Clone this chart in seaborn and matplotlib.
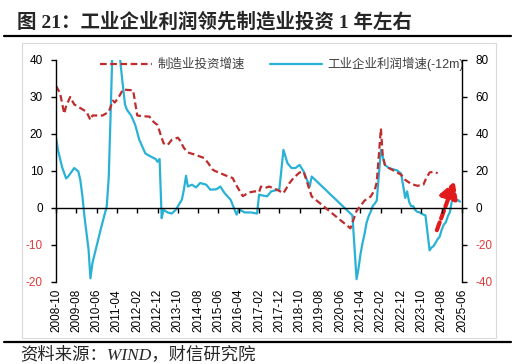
import pandas as pd
import matplotlib
matplotlib.use("Agg")
import matplotlib.pyplot as plt
import matplotlib.dates as mdates
from matplotlib.lines import Line2D
from matplotlib.patches import Rectangle
from matplotlib.transforms import Bbox, TransformedBbox
import seaborn as sns

## 制造业投资增速 (left axis, %)
invest_dates = ["2008-10", "2008-12", "2009-02", "2009-03", "2009-05", "2009-07", "2009-10",
                "2010-01", "2010-03", "2010-04", "2010-09", "2010-12", "2011-02", "2011-03",
                "2011-05", "2011-07", "2011-12", "2012-02", "2012-05", "2012-08", "2012-10",
                "2012-12", "2013-02", "2013-03", "2013-05", "2013-07", "2013-10", "2013-11",
                "2014-01", "2014-03", "2014-06", "2014-08", "2014-11", "2015-01", "2015-03",
                "2015-04", "2015-07", "2015-10", "2016-01", "2016-03", "2016-06", "2016-09",
                "2016-12", "2017-02", "2017-03", "2017-05", "2017-07", "2017-11", "2018-02",
                "2018-05", "2018-07", "2018-10", "2018-12", "2019-04", "2020-11", "2021-02",
                "2021-06", "2021-09", "2021-11", "2021-12", "2022-02", "2022-03", "2022-04",
                "2022-06", "2022-09", "2022-12", "2023-02", "2023-05", "2023-08", "2023-11",
                "2023-12", "2024-02", "2024-04", "2024-06"]
invest_values = [33.0, 31.0, 25.5, 27.5, 30.0, 28.0, 27.0,
                 26.0, 23.8, 25.0, 25.0, 26.0, 29.0, 28.5,
                 30.0, 32.0, 31.8, 25.0, 24.8, 24.7, 23.3,
                 22.4, 19.0, 17.5, 17.0, 18.4, 19.0, 18.3,
                 16.2, 15.0, 14.5, 14.1, 13.5, 12.1, 10.5,
                 10.1, 9.4, 8.7, 8.1, 6.0, 3.2, 4.2,
                 4.5, 4.3, 5.8, 5.4, 5.8, 4.9, 4.0,
                 6.7, 8.1, 9.6, 9.8, 3.1, -5.5, -0.8,
                 2.0, 3.1, 4.9, 7.0, 21.5, 14.0, 11.7,
                 10.8, 9.9, 9.0, 7.6, 6.5, 6.0, 6.3,
                 7.6, 9.6, 9.8, 9.4]

## 工业企业利润增速(-12m) (right axis, %)
profit_dates = ["2008-10", "2008-11", "2009-01", "2009-03", "2009-04", "2009-07", "2009-09",
                "2009-10", "2009-11", "2009-12", "2010-02", "2010-03", "2010-04", "2010-06",
                "2010-08", "2010-11", "2010-12", "2011-01", "2011-02", "2011-03", "2011-04",
                "2011-05", "2011-06", "2011-07", "2011-08", "2011-09", "2011-11", "2012-01",
                "2012-03", "2012-06", "2012-08", "2012-11", "2012-12", "2013-01", "2013-02",
                "2013-03", "2013-05", "2013-07", "2013-09", "2013-12", "2014-01", "2014-02",
                "2014-03", "2014-05", "2014-07", "2014-09", "2014-12", "2015-02", "2015-05",
                "2015-07", "2015-09", "2015-12", "2016-03", "2016-04", "2016-07", "2016-10",
                "2017-01", "2017-02", "2017-04", "2017-06", "2017-08", "2017-12", "2018-02",
                "2018-04", "2018-06", "2018-08", "2018-10", "2018-12", "2019-03", "2019-04",
                "2020-12", "2021-02", "2021-03", "2021-04", "2021-05", "2021-06", "2021-07",
                "2021-08", "2021-09", "2021-10", "2021-11", "2021-12", "2022-02", "2022-03",
                "2022-04", "2022-06", "2022-10", "2022-12", "2023-02", "2023-03", "2023-04",
                "2023-05", "2023-06", "2023-07", "2023-08", "2023-09", "2023-10", "2023-11",
                "2023-12", "2024-02", "2024-03", "2024-04", "2024-05", "2024-06", "2024-07",
                "2024-08", "2024-09", "2024-10", "2024-11", "2024-12", "2025-02", "2025-03",
                "2025-04", "2025-05"]
profit_values = [38.0, 31.0, 22.0, 16.0, 17.0, 21.6, 19.7,
                 15.0, 6.3, -4.5, -22.5, -38.0, -29.6, -20.7,
                 -11.7, 1.0, 17.0, 55.0, 95.0, 115.0, 100.0,
                 88.0, 76.0, 66.0, 56.0, 53.0, 50.0, 45.0,
                 37.0, 29.5, 28.2, 26.5, 25.0, 26.5, -5.5,
                 -1.0, -2.4, -3.0, -1.0, 4.5, 10.0, 17.4,
                 11.6, 12.6, 11.1, 13.5, 12.6, 9.9, 10.1,
                 11.6, 8.1, 4.5, -3.6, -0.7, -2.4, -2.4,
                 -3.0, 7.2, 6.7, 6.3, 9.0, 10.0, 31.4,
                 24.3, 21.6, 21.6, 23.3, 19.7, 11.6, 17.0,
                 -4.0, -38.5, -33.0, -25.0, -19.0, -14.0, -8.0,
                 -4.5, -2.0, 1.0, 2.4, 4.0, 31.4, 27.8,
                 23.3, 21.6, 20.3, 18.6, 5.4, 9.0, 3.2,
                 1.0, 1.0, -1.1, -2.1, -2.3, -3.0, -3.6,
                 -4.0, -22.9, -21.4, -20.6, -18.8, -16.8, -15.5,
                 -11.7, -9.0, -7.8, -4.4, -2.3, 10.2, 4.3,
                 4.3, 3.4]

x_ticks = pd.date_range("2008-10-01", "2025-06-01", freq="10MS")
left_ticks = [40, 30, 20, 10, 0, -10, -20]
right_ticks = [80, 60, 40, 20, 0, -20, -40]

RED = "#BE2D2D"
BLUE = "#2AB2D6"
NEG = "#E03B3B"

sns.set_style("ticks")
plt.rcParams["font.family"] = ["Liberation Sans", "Noto Sans CJK SC"]
plt.rcParams["axes.unicode_minus"] = False

invest = pd.DataFrame({"date": pd.to_datetime(invest_dates), "value": invest_values})
profit = pd.DataFrame({"date": pd.to_datetime(profit_dates), "value": profit_values})

fig = plt.figure(figsize=(5.25, 3.64), dpi=100)
ax = fig.add_axes([0.1067, 0.2253, 0.7733, 0.6099])
ax2 = ax.twinx()
# red dashed line sits on top of the blue one
ax.set_zorder(ax2.get_zorder() + 1)
ax.patch.set_visible(False)

sns.lineplot(data=profit, x="date", y="value", ax=ax2, color=BLUE, lw=1.6,
             label="工业企业利润增速(-12m)", legend=False)
sns.lineplot(data=invest, x="date", y="value", ax=ax, color=RED, lw=1.6,
             ls=(0, (3, 1.6)), label="制造业投资增速", legend=False)

ax.set_xlim(x_ticks[0], x_ticks[-1])
ax.set_ylim(-20, 40)
ax2.set_ylim(-40, 80)
for a in (ax, ax2):
    a.set_xlabel("")
    a.set_ylabel("")

## x labels at the bottom, tick marks on the zero line
ax.set_xticks(x_ticks)
ax.set_xticklabels([d.strftime("%Y-%m") for d in x_ticks], rotation=90)
ax.tick_params(axis="x", length=0, pad=5, labelsize=8.5, labelcolor="black")
zero_axis = ax.secondary_xaxis(20 / 60)
zero_axis.set_xticks(mdates.date2num(x_ticks.to_pydatetime()))
zero_axis.set_xticklabels([])
zero_axis.tick_params(length=3.5, width=1, color="black", direction="out")
for s in zero_axis.spines.values():
    s.set_color("black")
    s.set_linewidth(1)

ax.set_yticks(left_ticks)
ax2.set_yticks(right_ticks)
for a, ticks in ((ax, left_ticks), (ax2, right_ticks)):
    a.tick_params(axis="y", length=3.5, width=1, color="black", labelsize=8.5, pad=6,
                  labelcolor="black")
    for lbl, v in zip(a.get_yticklabels(), ticks):
        if v < 0:
            lbl.set_color(NEG)

for s in ["top", "bottom", "right"]:
    ax.spines[s].set_visible(False)
for s in ["top", "bottom", "left"]:
    ax2.spines[s].set_visible(False)
ax.spines["left"].set_color("black")
ax2.spines["right"].set_color("black")
ax.spines["left"].set_linewidth(1)
ax2.spines["right"].set_linewidth(1)

## red arrow
ax2.annotate("", xy=(mdates.date2num(pd.Timestamp("2025-02-10")), 14.5),
             xytext=(mdates.date2num(pd.Timestamp("2024-05-20")), -12),
             arrowprops=dict(arrowstyle="-|>,head_length=0.65,head_width=0.36",
                             color="#E31A1C", lw=3, ls=(0, (2, 1)),
                             mutation_scale=15, shrinkA=0, shrinkB=0))

h1, l1 = ax.get_legend_handles_labels()
h2, l2 = ax2.get_legend_handles_labels()
leg = ax.legend(h1 + h2, l1 + l2, ncol=2, frameon=False, loc="center left",
                bbox_to_anchor=(0.108, 0.982), borderpad=0, borderaxespad=0,
                handlelength=4.2, handletextpad=0.4, columnspacing=2.0, fontsize=9)
# the legend text is cut at the right spine, as in the source chart
legend_clip = TransformedBbox(Bbox([[0, 0], [1, 1.2]]), ax.transAxes)
for t in leg.get_texts():
    t.set_color("#404040")
    t.set_clip_box(legend_clip)
    t.set_clip_on(True)

## frame, rules, title and source
fig.add_artist(Rectangle((22 / 525, 1 - 338 / 364), 474 / 525, 295 / 364,
                         transform=fig.transFigure, fill=False,
                         edgecolor="#D9D9D9", lw=0.8))
for yy in (36, 342):
    fig.add_artist(Line2D([4 / 525, 511 / 525], [1 - yy / 364] * 2, color="black",
                          lw=1.6, transform=fig.transFigure))
fig.text(17 / 525, 1 - 22 / 364, "图 21：工业企业利润领先制造业投资 1 年左右",
         fontsize=14, fontweight="bold", va="center",
         family=["Liberation Serif", "Noto Sans CJK SC"])
fig.text(20 / 525, 9 / 364, "资料来源：WIND，财信研究院", fontsize=12.5, style="italic",
         va="center", family=["Liberation Serif", "Noto Sans CJK SC"])

fig.savefig("out.png", dpi=100)
